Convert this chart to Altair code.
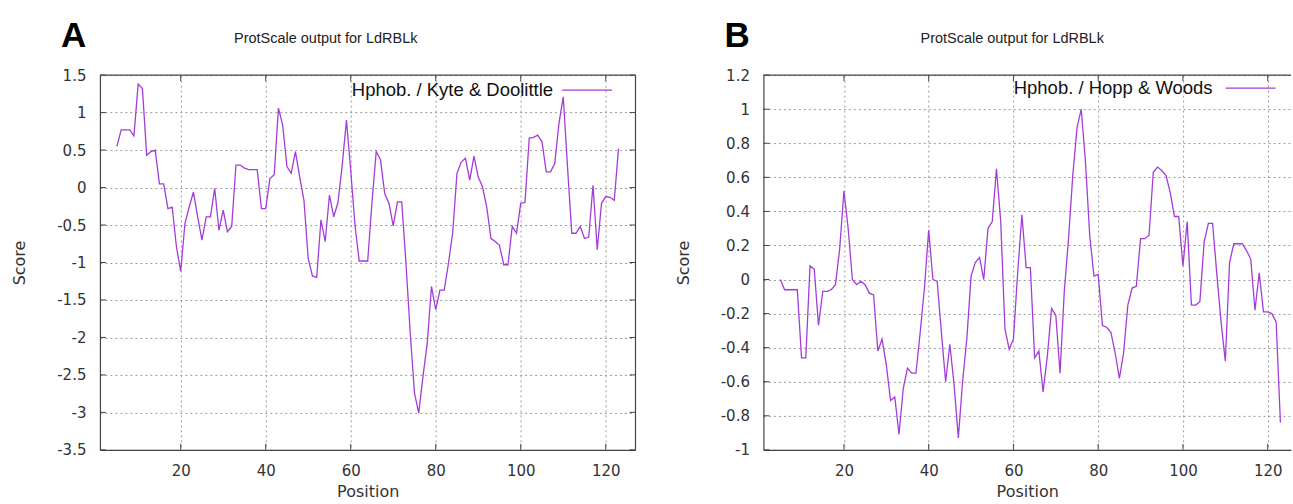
import altair as alt
import pandas as pd

positions = list(range(5, 124))

kyte_doolittle = [
    0.55, 0.77, 0.77, 0.77, 0.69, 1.38, 1.32, 0.43, 0.48, 0.50,   # 5-14
    0.05, 0.05, -0.28, -0.26, -0.79, -1.12, -0.48, -0.26, -0.06, -0.39,  # 15-24
    -0.70, -0.39, -0.39, -0.01, -0.57, -0.30, -0.59, -0.52, 0.30, 0.30,  # 25-34
    0.26, 0.24, 0.24, 0.24, -0.28, -0.28, 0.12, 0.17, 1.06, 0.83,  # 35-44
    0.28, 0.19, 0.48, 0.14, -0.17, -0.95, -1.18, -1.20, -0.43, -0.72,  # 45-54
    -0.10, -0.39, -0.20, 0.30, 0.90, 0.23, -0.50, -0.98, -0.98, -0.98,  # 55-64
    -0.20, 0.48, 0.37, -0.08, -0.21, -0.51, -0.19, -0.19, -1.01, -1.94,  # 65-74
    -2.74, -3.01, -2.52, -2.08, -1.32, -1.63, -1.37, -1.37, -1.01, -0.60,  # 75-84
    0.19, 0.34, 0.39, 0.10, 0.42, 0.14, 0.01, -0.26, -0.68, -0.72,  # 85-94
    -0.77, -1.03, -1.03, -0.52, -0.61, -0.21, -0.20, 0.66, 0.67, 0.70,  # 95-104
    0.61, 0.21, 0.21, 0.32, 0.86, 1.21, 0.28, -0.61, -0.61, -0.52,  # 105-114
    -0.68, -0.66, 0.03, -0.83, -0.21, -0.12, -0.13, -0.17, 0.52,  # 115-123
]

hopp_woods = [
    0.00, -0.06, -0.06, -0.06, -0.06, -0.46, -0.46, 0.08, 0.06, -0.27,  # 5-14
    -0.07, -0.07, -0.06, -0.03, 0.18, 0.52, 0.30, 0.00, -0.03, -0.01,  # 15-24
    -0.03, -0.08, -0.09, -0.42, -0.35, -0.50, -0.71, -0.69, -0.91, -0.64,  # 25-34
    -0.52, -0.55, -0.55, -0.31, -0.05, 0.29, 0.00, -0.01, -0.31, -0.60,  # 35-44
    -0.38, -0.62, -0.93, -0.60, -0.35, 0.02, 0.10, 0.13, 0.00, 0.30,  # 45-54
    0.34, 0.65, 0.34, -0.29, -0.41, -0.35, 0.04, 0.38, 0.07, 0.07,  # 55-64
    -0.46, -0.42, -0.66, -0.45, -0.17, -0.21, -0.55, -0.07, 0.24, 0.61,  # 65-74
    0.89, 1.00, 0.69, 0.26, 0.02, 0.03, -0.27, -0.28, -0.31, -0.43,  # 75-84
    -0.58, -0.43, -0.15, -0.05, -0.04, 0.24, 0.24, 0.26, 0.63, 0.66,  # 85-94
    0.64, 0.61, 0.51, 0.37, 0.37, 0.08, 0.34, -0.15, -0.15, -0.13,  # 95-104
    0.22, 0.33, 0.33, 0.03, -0.25, -0.48, 0.10, 0.21, 0.21, 0.21,  # 105-114
    0.17, 0.12, -0.18, 0.04, -0.19, -0.19, -0.20, -0.25, -0.84,  # 115-123
]

x_ticks = [20, 40, 60, 80, 100, 120]
y_ticks_a = [-3.5, -3, -2.5, -2, -1.5, -1, -0.5, 0, 0.5, 1, 1.5]
y_ticks_b = [-1, -0.8, -0.6, -0.4, -0.2, 0, 0.2, 0.4, 0.6, 0.8, 1, 1.2]

panel_title = "ProtScale output for LdRBLk"
legend_a = "Hphob. / Kyte & Doolittle"
legend_b = "Hphob. / Hopp & Woods"

LINE = "#a43cd8"
FRAME = "#444444"
H = 375


def panel(values, y_dom, y_ticks, width, x_max, letter, legend, right_border,
          leg_line_y, leg_text_y, title_x, anchor=False):
    xs = alt.Scale(domain=[1, x_max], nice=False, zero=False)
    ys = alt.Scale(domain=y_dom, nice=False, zero=False)
    x_axis = alt.Axis(values=x_ticks, title="Position", titleY=34,
                      titleBaseline="top", labelPadding=14)
    y_axis = alt.Axis(values=y_ticks, title="Score",
                      labelExpr="toString(datum.value)", titleX=-80,
                      titleY=H / 2, titleBaseline="middle", labelPadding=14)
    df = pd.DataFrame({"Position": positions, "Score": values})
    one = pd.DataFrame({"title": [panel_title], "letter": [letter], "legend": [legend]})

    line = alt.Chart(df).mark_line(color=LINE, strokeWidth=1.3, clip=True).encode(
        x=alt.X("Position:Q", scale=xs, axis=x_axis),
        y=alt.Y("Score:Q", scale=ys, axis=y_axis),
    )

    xt = pd.DataFrame({"Position": x_ticks})
    yt = pd.DataFrame({"Score": y_ticks})
    bottom_ticks = alt.Chart(xt).mark_rule(color=FRAME).encode(
        x=alt.X("Position:Q", scale=xs, axis=x_axis), y=alt.value(H), y2=alt.value(H - 6))
    top_ticks = alt.Chart(xt).mark_rule(color=FRAME).encode(
        x=alt.X("Position:Q", scale=xs, axis=x_axis), y=alt.value(0), y2=alt.value(6))
    left_ticks = alt.Chart(yt).mark_rule(color=FRAME).encode(
        y=alt.Y("Score:Q", scale=ys, axis=y_axis), x=alt.value(0), x2=alt.value(6))

    top_border = alt.Chart(one).mark_rule(color=FRAME, strokeWidth=1.2).encode(
        x=alt.value(0), x2=alt.value(width), y=alt.value(0))

    title = alt.Chart(one).mark_text(
        font="Liberation Sans", fontSize=14.5, color="#222", align="center",
        baseline="alphabetic").encode(
        x=alt.value(title_x), y=alt.value(-32), text="title:N")
    letter_t = alt.Chart(one).mark_text(
        font="Liberation Sans", fontSize=35, fontWeight="bold", color="#000",
        align="left", baseline="alphabetic").encode(
        x=alt.value(-39), y=alt.value(-28), text="letter:N")
    leg_text = alt.Chart(one).mark_text(
        font="Liberation Sans", fontSize=18.5, color="#111", align="right",
        baseline="alphabetic").encode(
        x=alt.value(453.5 if right_border else 449.5), y=alt.value(leg_text_y),
        text="legend:N")
    leg_line = alt.Chart(one).mark_rule(color=LINE, strokeWidth=1.3).encode(
        x=alt.value(462.5), x2=alt.value(512.5), y=alt.value(leg_line_y))

    layers = [line, bottom_ticks, top_ticks, left_ticks, top_border,
              title, letter_t, leg_text, leg_line]
    if right_border:
        right_ticks = alt.Chart(yt).mark_rule(color=FRAME).encode(
            y=alt.Y("Score:Q", scale=ys, axis=y_axis), x=alt.value(width - 6),
            x2=alt.value(width))
        right_line = alt.Chart(one).mark_rule(color=FRAME, strokeWidth=1.2).encode(
            x=alt.value(width), y=alt.value(0), y2=alt.value(H))
        layers += [right_ticks, right_line]
    if anchor:
        # white (invisible) rule fixing the top-left corner of the page
        corner = alt.Chart(one).mark_rule(color="white").encode(
            x=alt.value(-99), y=alt.value(-74), y2=alt.value(-70))
        layers.append(corner)
    return alt.layer(*layers).properties(width=width, height=H)


pa = panel(kyte_doolittle, [-3.5, 1.5], y_ticks_a, 536, 127, "A", legend_a,
           True, 15, 21, 226, anchor=True)
pb = panel(hopp_woods, [-1, 1.2], y_ticks_b, 528, 125.5, "B", legend_b,
           False, 13, 19, 249)

chart = alt.hconcat(pa, pb, spacing=128, bounds="flush").properties(
    padding=0, background="white"
).configure_view(stroke="transparent").configure_axis(
    domainColor=FRAME, domainWidth=1.2, ticks=False, tickSize=0,
    grid=True, gridColor="#9a9a9a", gridDash=[2, 3], gridWidth=1,
    labelFont="DejaVu Sans", labelFontSize=15, labelColor="#333",
    titleFont="DejaVu Sans", titleFontSize=16, titleFontWeight="normal",
    titleColor="#333",
)

chart.save("out.html", embed_options={"renderer": "svg", "actions": False})
